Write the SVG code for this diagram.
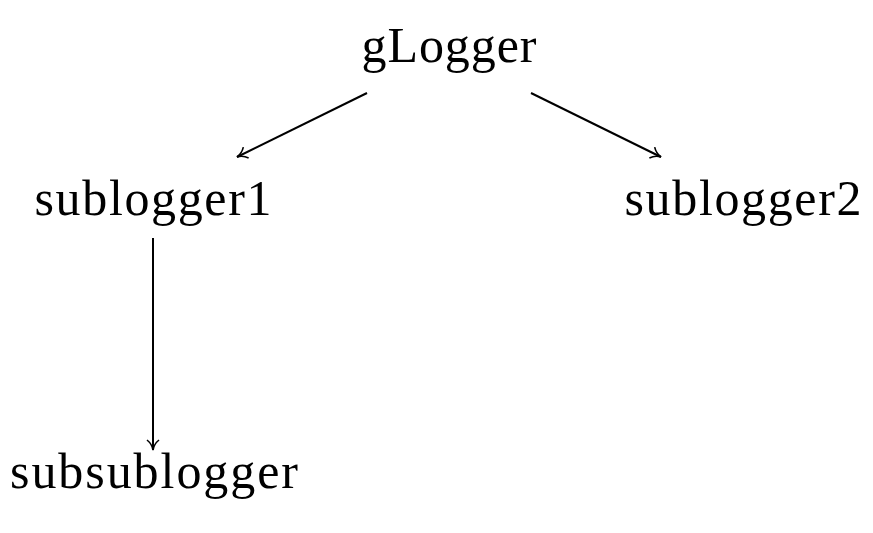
<svg xmlns="http://www.w3.org/2000/svg" width="873" height="533" viewBox="0 0 873 533">
<style>
text{font-family:"Liberation Serif",serif;font-size:50px;fill:#000}
.c{stroke:#000;stroke-width:2;fill:none}
</style>
<defs><marker id="a" markerWidth="14" markerHeight="14" refX="12" refY="7" orient="auto" markerUnits="userSpaceOnUse"><path d="M2,1 Q6,6 12,7 Q6,8 2,13" fill="none" stroke="#000" stroke-width="1.6"/></marker></defs>
<rect width="873" height="533" fill="#fff"/>
<g id="connectors">
<line class="c" x1="367" y1="93" x2="237" y2="157" marker-end="url(#a)"/>
<line class="c" x1="531" y1="93" x2="661" y2="157" marker-end="url(#a)"/>
<line class="c" x1="153" y1="238" x2="153" y2="450" marker-end="url(#a)"/>
</g>
<g id="gLogger"><text x="449" y="62" text-anchor="middle" textLength="175">gLogger</text></g>
<g id="sublogger1"><text x="153" y="215" text-anchor="middle" textLength="237">sublogger1</text></g>
<g id="sublogger2"><text x="743" y="215" text-anchor="middle" textLength="237">sublogger2</text></g>
<g id="subsublogger"><text x="154" y="488" text-anchor="middle" textLength="288">subsublogger</text></g>
</svg>
